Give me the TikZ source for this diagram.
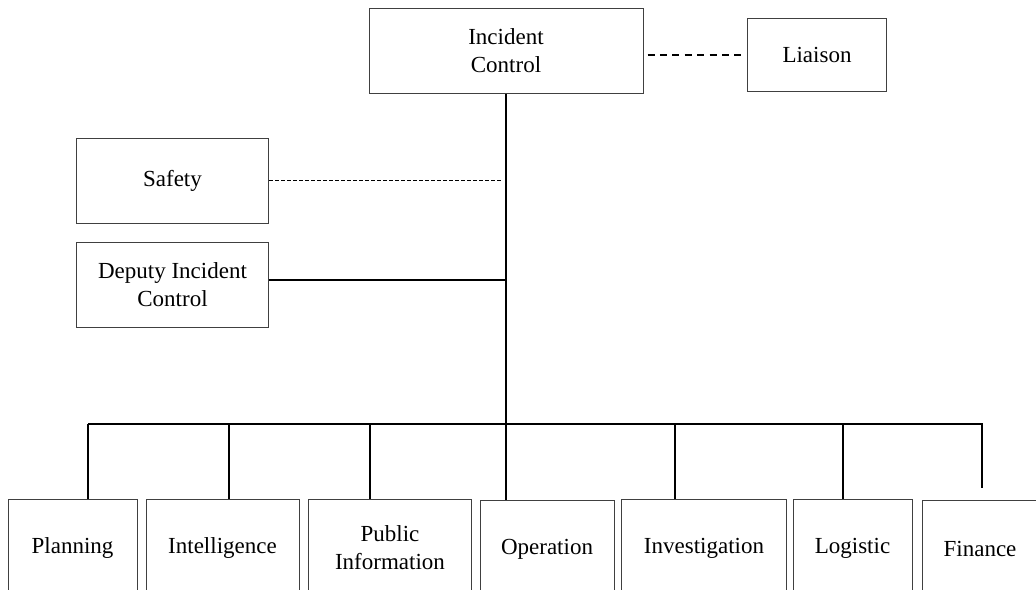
\documentclass[tikz,border=0pt]{standalone}
\usepackage{fontspec}
\setmainfont{Liberation Serif}
\tikzset{>=stealth}
\tikzset{
    box/.style 2 args = {draw = black!75, line width = 0.5pt, align = center,
        minimum width = #1*0.5pt, minimum height = #2*0.5pt, inner sep = 0pt,
        font = \fontsize{11.5pt}{14pt}\selectfont},
    link/.style = {line width = 1pt},
    safetylink/.style = {line width = 0.7pt, dash pattern = on 2pt off 1pt},
    liaisonlink/.style = {line width = 0.7pt, dash pattern = on 3.5pt off 2.7pt}
}

\begin{document}
\begin{tikzpicture}[x = 0.5pt, y = -0.5pt]
    \useasboundingbox (0,0) rectangle (1036,589);
    % top
    \node (ic) at (506,50.5) [box = {274}{85}] {Incident\\Control};
    \node (liaison) at (817,55) [box = {139}{73}] {Liaison};
    \node (safety) at (172.5,180.5) [box = {192}{85}] {Safety};
    \node (deputy) at (172.5,284.5) [box = {192}{85}] {Deputy Incident\\Control};
    % bottom row
    \node (plan) at (72.5,548) [box = {129}{98}] {Planning};
    \node (intel) at (222.5,548) [box = {153}{98}] {Intelligence};
    \node (pub) at (390,548) [box = {163}{98}] {Public\\Information};
    \node (oper) at (547,549) [box = {134}{98}] {Operation};
    \node (inv) at (704,548) [box = {165}{98}] {Investigation};
    \node (log) at (852.5,548) [box = {119}{98}] {Logistic};
    \node (fin) at (980,549) [box = {116}{98}] {Finance};
    % links
    \coordinate (hub) at (506,424);
    \coordinate (fend) at (982,488);
    \draw[link] (ic.south) -- (hub);
    \draw[liaisonlink, shorten <= 2pt, shorten >= 2pt] (ic.east |- liaison) -- (liaison.west);
    \draw[safetylink, shorten >= 2pt] (safety.east) -- (safety.east -| ic.south);
    \draw[link] ([yshift = 2.5pt]deputy.east) -- ([yshift = 2.5pt]deputy.east -| ic.south);
    \foreach \x/\n in {88/plan, 229/intel, 370/pub, 675/inv, 843/log}{
        \coordinate (d\n) at (\x,424);
        \draw[link] (d\n) -- (d\n |- \n.north);
    }
    \draw[link] (dplan) -- (hub) -- (hub -| fend) -- (fend);
    \draw[link] (hub) -- (hub |- oper.north);
   %\draw[help lines] (0,0) grid[step=50] (1036,589);
\end{tikzpicture}
\end{document}
